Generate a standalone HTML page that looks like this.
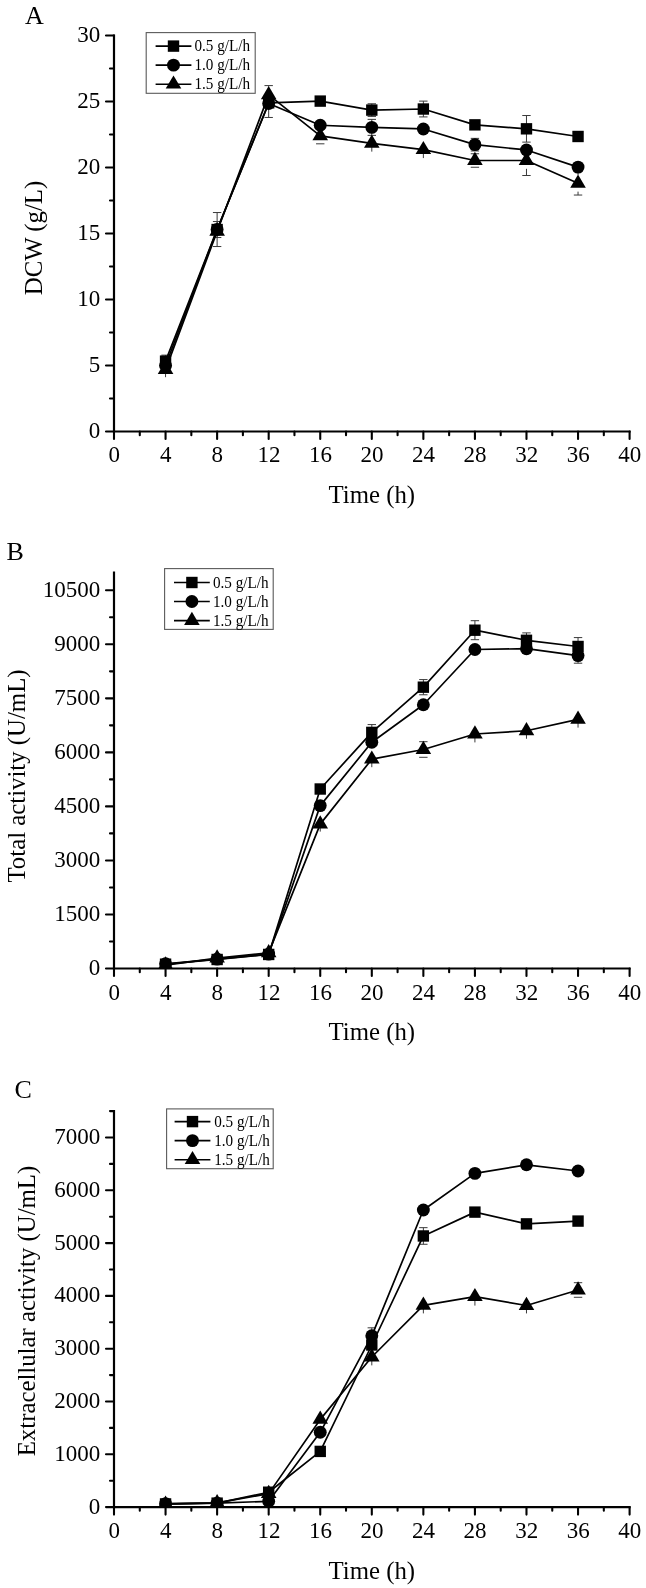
<!DOCTYPE html>
<html lang="en"><head><meta charset="utf-8"><title>Figure: DCW, total activity and extracellular activity vs time</title>
<style>html,body{margin:0;padding:0;background:#fff}body{width:646px;height:1588px;overflow:hidden}svg{display:block;will-change:transform;opacity:.999}text{font-family:'Liberation Serif', 'DejaVu Serif', serif;fill:#000}</style>
</head><body>
<svg width="646" height="1588" viewBox="0 0 646 1588">
<g>
<path d="M114 34.45 V431.5 H630.65" fill="none" stroke="#000" stroke-width="2.2" stroke-linejoin="miter"/>
<path d="M114 431.5H106M114 365.5H106M114 299.5H106M114 233.5H106M114 167.5H106M114 101.5H106M114 35.5H106M114 398.5H110M114 332.5H110M114 266.5H110M114 200.5H110M114 134.5H110M114 68.5H110M114 431.5V439M165.56 431.5V439M217.12 431.5V439M268.68 431.5V439M320.24 431.5V439M371.8 431.5V439M423.36 431.5V439M474.92 431.5V439M526.48 431.5V439M578.04 431.5V439M629.6 431.5V439M139.78 431.5V435.2M191.34 431.5V435.2M242.9 431.5V435.2M294.46 431.5V435.2M346.02 431.5V435.2M397.58 431.5V435.2M449.14 431.5V435.2M500.7 431.5V435.2M552.26 431.5V435.2M603.82 431.5V435.2" fill="none" stroke="#000" stroke-width="2.1" stroke-linecap="round"/>
<g font-size="23" text-anchor="end">
<text x="100.3" y="437.9">0</text>
<text x="100.3" y="371.9">5</text>
<text x="100.3" y="305.9">10</text>
<text x="100.3" y="239.9">15</text>
<text x="100.3" y="173.9">20</text>
<text x="100.3" y="107.9">25</text>
<text x="100.3" y="41.9">30</text>
</g>
<g font-size="23" text-anchor="middle">
<text x="114.2" y="461.9">0</text>
<text x="165.76" y="461.9">4</text>
<text x="217.32" y="461.9">8</text>
<text x="268.88" y="461.9">12</text>
<text x="320.44" y="461.9">16</text>
<text x="372" y="461.9">20</text>
<text x="423.56" y="461.9">24</text>
<text x="475.12" y="461.9">28</text>
<text x="526.68" y="461.9">32</text>
<text x="578.24" y="461.9">36</text>
<text x="629.8" y="461.9">40</text>
</g>
<text x="371.8" y="502.9" font-size="24.8" text-anchor="middle">Time (h)</text>
<text transform="translate(41.6 238) rotate(-90)" font-size="24.8" text-anchor="middle">DCW (g/L)</text>
<text x="25" y="23.8" font-size="26">A</text>
<clipPath id="clipA"><rect x="114" y="0" width="532" height="431.5"/></clipPath>
<g clip-path="url(#clipA)">
<path d="M165.56 355.14V367.14M161.36 355.14H169.76M161.36 367.14H169.76M217.12 221.54V237.54M212.92 221.54H221.32M212.92 237.54H221.32M371.8 103.78V116.38M367.6 103.78H376M367.6 116.38H376M423.36 101.12V116.92M419.16 101.12H427.56M419.16 116.92H427.56M526.48 115.52V142.12M522.28 115.52H530.68M522.28 142.12H530.68M217.12 212.54V246.54M212.92 212.54H221.32M212.92 246.54H221.32M268.68 89.48V117.48M264.48 117.48H272.88M371.8 119.37V135.37M367.6 119.37H376M367.6 135.37H376M474.92 138.36V150.96M470.72 138.36H479.12M470.72 150.96H479.12M165.56 373.09V377.19M268.68 85.6V86.6M268.68 103.2V104.2M264.48 85.6H272.88M264.48 104.2H272.88M316.04 127.82H324.44M316.04 143.82H324.44M371.8 146.84V151.64M423.36 153.18V158.08M470.72 153.75H479.12M470.72 167.25H479.12M526.48 145.5V152.2M526.48 168.8V175.5M522.28 145.5H530.68M522.28 175.5H530.68M578.04 171.64V175.04M578.04 191.64V195.04M573.84 171.64H582.24M573.84 195.04H582.24" fill="none" stroke="#3a3a3a" stroke-width="1.0"/>
<polyline points="165.56,361.14 217.12,229.54 268.68,102.82 320.24,101.1 371.8,110.08 423.36,109.02 474.92,124.86 526.48,128.82 578.04,136.48" fill="none" stroke="#000" stroke-width="1.7" stroke-linejoin="round"/>
<polyline points="165.56,365.5 217.12,229.54 268.68,103.48 320.24,125.26 371.8,127.37 423.36,128.96 474.92,144.66 526.48,149.94 578.04,167.1" fill="none" stroke="#000" stroke-width="1.7" stroke-linejoin="round"/>
<polyline points="165.56,369.59 217.12,231.39 268.68,94.9 320.24,135.82 371.8,143.34 423.36,149.68 474.92,160.5 526.48,160.5 578.04,183.34" fill="none" stroke="#000" stroke-width="1.7" stroke-linejoin="round"/>
<g fill="#000"><rect x="159.86" y="355.44" width="11.4" height="11.4"/><rect x="211.42" y="223.84" width="11.4" height="11.4"/><rect x="262.98" y="97.12" width="11.4" height="11.4"/><rect x="314.54" y="95.4" width="11.4" height="11.4"/><rect x="366.1" y="104.38" width="11.4" height="11.4"/><rect x="417.66" y="103.32" width="11.4" height="11.4"/><rect x="469.22" y="119.16" width="11.4" height="11.4"/><rect x="520.78" y="123.12" width="11.4" height="11.4"/><rect x="572.34" y="130.78" width="11.4" height="11.4"/></g>
<g fill="#000"><circle cx="165.56" cy="365.5" r="6.45"/><circle cx="217.12" cy="229.54" r="6.45"/><circle cx="268.68" cy="103.48" r="6.45"/><circle cx="320.24" cy="125.26" r="6.45"/><circle cx="371.8" cy="127.37" r="6.45"/><circle cx="423.36" cy="128.96" r="6.45"/><circle cx="474.92" cy="144.66" r="6.45"/><circle cx="526.48" cy="149.94" r="6.45"/><circle cx="578.04" cy="167.1" r="6.45"/></g>
<g fill="#000"><polygon points="165.56,360.79 157.76,373.99 173.36,373.99"/><polygon points="217.12,222.59 209.32,235.79 224.92,235.79"/><polygon points="268.68,86.1 260.88,99.3 276.48,99.3"/><polygon points="320.24,127.02 312.44,140.22 328.04,140.22"/><polygon points="371.8,134.54 364,147.74 379.6,147.74"/><polygon points="423.36,140.88 415.56,154.08 431.16,154.08"/><polygon points="474.92,151.7 467.12,164.9 482.72,164.9"/><polygon points="526.48,151.7 518.68,164.9 534.28,164.9"/><polygon points="578.04,174.54 570.24,187.74 585.84,187.74"/></g>
</g>
<rect x="146.2" y="32.6" width="109" height="60.7" fill="#fff" stroke="#5a5a5a" stroke-width="1.1"/>
<g font-size="15.8">
<path d="M155.6 46.1H191.4" stroke="#000" stroke-width="1.6" fill="none"/>
<rect x="167.8" y="40.4" width="11.4" height="11.4"/>
<text x="194.5" y="51.2" textLength="55.6" lengthAdjust="spacingAndGlyphs">0.5 g/L/h</text>
<path d="M155.6 65.15H191.4" stroke="#000" stroke-width="1.6" fill="none"/>
<circle cx="173.5" cy="65.15" r="6.45"/>
<text x="194.5" y="70.25" textLength="55.6" lengthAdjust="spacingAndGlyphs">1.0 g/L/h</text>
<path d="M155.6 84.2H191.4" stroke="#000" stroke-width="1.6" fill="none"/>
<polygon points="173.5,75.4 165.7,88.6 181.3,88.6"/>
<text x="194.5" y="89.3" textLength="55.6" lengthAdjust="spacingAndGlyphs">1.5 g/L/h</text>
</g>
</g>
<g>
<path d="M114 571.5 V968.5 H630.65" fill="none" stroke="#000" stroke-width="2.2" stroke-linejoin="miter"/>
<path d="M114 968.5H106M114 914.47H106M114 860.44H106M114 806.41H106M114 752.38H106M114 698.35H106M114 644.32H106M114 590.29H106M114 941.49H110M114 887.46H110M114 833.42H110M114 779.39H110M114 725.37H110M114 671.34H110M114 617.3H110M114 968.5V976M165.56 968.5V976M217.12 968.5V976M268.68 968.5V976M320.24 968.5V976M371.8 968.5V976M423.36 968.5V976M474.92 968.5V976M526.48 968.5V976M578.04 968.5V976M629.6 968.5V976M139.78 968.5V972.2M191.34 968.5V972.2M242.9 968.5V972.2M294.46 968.5V972.2M346.02 968.5V972.2M397.58 968.5V972.2M449.14 968.5V972.2M500.7 968.5V972.2M552.26 968.5V972.2M603.82 968.5V972.2" fill="none" stroke="#000" stroke-width="2.1" stroke-linecap="round"/>
<g font-size="23" text-anchor="end">
<text x="100.3" y="974.9">0</text>
<text x="100.3" y="920.87">1500</text>
<text x="100.3" y="866.84">3000</text>
<text x="100.3" y="812.81">4500</text>
<text x="100.3" y="758.78">6000</text>
<text x="100.3" y="704.75">7500</text>
<text x="100.3" y="650.72">9000</text>
<text x="100.3" y="596.69">10500</text>
</g>
<g font-size="23" text-anchor="middle">
<text x="114.2" y="999.5">0</text>
<text x="165.76" y="999.5">4</text>
<text x="217.32" y="999.5">8</text>
<text x="268.88" y="999.5">12</text>
<text x="320.44" y="999.5">16</text>
<text x="372" y="999.5">20</text>
<text x="423.56" y="999.5">24</text>
<text x="475.12" y="999.5">28</text>
<text x="526.68" y="999.5">32</text>
<text x="578.24" y="999.5">36</text>
<text x="629.8" y="999.5">40</text>
</g>
<text x="371.8" y="1039.9" font-size="24.8" text-anchor="middle">Time (h)</text>
<text transform="translate(24.6 776) rotate(-90)" font-size="24.8" text-anchor="middle">Total activity (U/mL)</text>
<text x="6.6" y="560" font-size="26">B</text>
<clipPath id="clipB"><rect x="114" y="0" width="532" height="968.5"/></clipPath>
<g clip-path="url(#clipB)">
<path d="M371.8 724.59V740.19M367.6 724.59H376M367.6 740.19H376M423.36 679.58V694.78M419.16 679.58H427.56M419.16 694.78H427.56M474.92 620.7V639.7M470.72 620.7H479.12M470.72 639.7H479.12M526.48 632.89V647.69M522.28 632.89H530.68M522.28 647.69H530.68M578.04 637.58V655.38M573.84 637.58H582.24M573.84 655.38H582.24M578.04 647.99V663.19M573.84 647.99H582.24M573.84 663.19H582.24M320.24 827.6V831.6M371.8 762.69V767.19M419.16 741.7H427.56M419.16 757.3H427.56M474.92 737.51V742.41M526.48 734.27V738.77M578.04 722.81V727.61" fill="none" stroke="#3a3a3a" stroke-width="1.0"/>
<polyline points="165.56,964.18 217.12,959.5 268.68,954.45 320.24,789.01 371.8,732.39 423.36,687.18 474.92,630.2 526.48,640.29 578.04,646.48" fill="none" stroke="#000" stroke-width="1.7" stroke-linejoin="round"/>
<polyline points="165.56,963.82 217.12,959.13 268.68,954.09 320.24,805.62 371.8,742.29 423.36,704.76 474.92,649.51 526.48,648.71 578.04,655.59" fill="none" stroke="#000" stroke-width="1.7" stroke-linejoin="round"/>
<polyline points="165.56,965.08 217.12,958.05 268.68,952.83 320.24,824.1 371.8,759.19 423.36,749.5 474.92,734.01 526.48,730.77 578.04,719.31" fill="none" stroke="#000" stroke-width="1.7" stroke-linejoin="round"/>
<g fill="#000"><rect x="159.86" y="958.48" width="11.4" height="11.4"/><rect x="211.42" y="953.79" width="11.4" height="11.4"/><rect x="262.98" y="948.75" width="11.4" height="11.4"/><rect x="314.54" y="783.31" width="11.4" height="11.4"/><rect x="366.1" y="726.69" width="11.4" height="11.4"/><rect x="417.66" y="681.48" width="11.4" height="11.4"/><rect x="469.22" y="624.5" width="11.4" height="11.4"/><rect x="520.78" y="634.59" width="11.4" height="11.4"/><rect x="572.34" y="640.78" width="11.4" height="11.4"/></g>
<g fill="#000"><circle cx="165.56" cy="963.82" r="6.45"/><circle cx="217.12" cy="959.13" r="6.45"/><circle cx="268.68" cy="954.09" r="6.45"/><circle cx="320.24" cy="805.62" r="6.45"/><circle cx="371.8" cy="742.29" r="6.45"/><circle cx="423.36" cy="704.76" r="6.45"/><circle cx="474.92" cy="649.51" r="6.45"/><circle cx="526.48" cy="648.71" r="6.45"/><circle cx="578.04" cy="655.59" r="6.45"/></g>
<g fill="#000"><polygon points="165.56,956.28 157.76,969.48 173.36,969.48"/><polygon points="217.12,949.25 209.32,962.45 224.92,962.45"/><polygon points="268.68,944.03 260.88,957.23 276.48,957.23"/><polygon points="320.24,815.3 312.44,828.5 328.04,828.5"/><polygon points="371.8,750.39 364,763.59 379.6,763.59"/><polygon points="423.36,740.7 415.56,753.9 431.16,753.9"/><polygon points="474.92,725.21 467.12,738.41 482.72,738.41"/><polygon points="526.48,721.97 518.68,735.17 534.28,735.17"/><polygon points="578.04,710.51 570.24,723.71 585.84,723.71"/></g>
</g>
<rect x="164.6" y="568.6" width="108.6" height="60.8" fill="#fff" stroke="#5a5a5a" stroke-width="1.1"/>
<g font-size="15.8">
<path d="M174 582.5H209.8" stroke="#000" stroke-width="1.6" fill="none"/>
<rect x="186.2" y="576.8" width="11.4" height="11.4"/>
<text x="212.9" y="587.6" textLength="55.6" lengthAdjust="spacingAndGlyphs">0.5 g/L/h</text>
<path d="M174 601.55H209.8" stroke="#000" stroke-width="1.6" fill="none"/>
<circle cx="191.9" cy="601.55" r="6.45"/>
<text x="212.9" y="606.65" textLength="55.6" lengthAdjust="spacingAndGlyphs">1.0 g/L/h</text>
<path d="M174 620.6H209.8" stroke="#000" stroke-width="1.6" fill="none"/>
<polygon points="191.9,611.8 184.1,625 199.7,625"/>
<text x="212.9" y="625.7" textLength="55.6" lengthAdjust="spacingAndGlyphs">1.5 g/L/h</text>
</g>
</g>
<g>
<path d="M114 1109.95 V1507.1 H630.65" fill="none" stroke="#000" stroke-width="2.2" stroke-linejoin="miter"/>
<path d="M114 1507.1H106M114 1454.3H106M114 1401.5H106M114 1348.7H106M114 1295.9H106M114 1243.1H106M114 1190.3H106M114 1137.5H106M114 1480.7H110M114 1427.9H110M114 1375.1H110M114 1322.3H110M114 1269.5H110M114 1216.7H110M114 1163.9H110M114 1111.1H110M114 1507.1V1514.6M165.56 1507.1V1514.6M217.12 1507.1V1514.6M268.68 1507.1V1514.6M320.24 1507.1V1514.6M371.8 1507.1V1514.6M423.36 1507.1V1514.6M474.92 1507.1V1514.6M526.48 1507.1V1514.6M578.04 1507.1V1514.6M629.6 1507.1V1514.6M139.78 1507.1V1510.8M191.34 1507.1V1510.8M242.9 1507.1V1510.8M294.46 1507.1V1510.8M346.02 1507.1V1510.8M397.58 1507.1V1510.8M449.14 1507.1V1510.8M500.7 1507.1V1510.8M552.26 1507.1V1510.8M603.82 1507.1V1510.8" fill="none" stroke="#000" stroke-width="2.1" stroke-linecap="round"/>
<g font-size="23" text-anchor="end">
<text x="100.3" y="1513.5">0</text>
<text x="100.3" y="1460.7">1000</text>
<text x="100.3" y="1407.9">2000</text>
<text x="100.3" y="1355.1">3000</text>
<text x="100.3" y="1302.3">4000</text>
<text x="100.3" y="1249.5">5000</text>
<text x="100.3" y="1196.7">6000</text>
<text x="100.3" y="1143.9">7000</text>
</g>
<g font-size="23" text-anchor="middle">
<text x="114.2" y="1538.1">0</text>
<text x="165.76" y="1538.1">4</text>
<text x="217.32" y="1538.1">8</text>
<text x="268.88" y="1538.1">12</text>
<text x="320.44" y="1538.1">16</text>
<text x="372" y="1538.1">20</text>
<text x="423.56" y="1538.1">24</text>
<text x="475.12" y="1538.1">28</text>
<text x="526.68" y="1538.1">32</text>
<text x="578.24" y="1538.1">36</text>
<text x="629.8" y="1538.1">40</text>
</g>
<text x="371.8" y="1578.5" font-size="24.8" text-anchor="middle">Time (h)</text>
<text transform="translate(35 1311) rotate(-90)" font-size="24.8" text-anchor="middle">Extracellular activity (U/mL)</text>
<text x="14.6" y="1098" font-size="26">C</text>
<clipPath id="clipC"><rect x="114" y="0" width="532" height="1507.1"/></clipPath>
<g clip-path="url(#clipC)">
<path d="M423.36 1227.67V1244.27M419.16 1227.67H427.56M419.16 1244.27H427.56M371.8 1327.82V1343.82M367.6 1327.82H376M367.6 1343.82H376M371.8 1360.49V1365.39M423.36 1308.9V1313.4M474.92 1300.19V1305.59M526.48 1309.01V1313.41M573.84 1282.69H582.24M573.84 1297.29H582.24" fill="none" stroke="#3a3a3a" stroke-width="1.0"/>
<polyline points="165.56,1503.93 217.12,1503.14 268.68,1492.21 320.24,1451.4 371.8,1345 423.36,1235.97 474.92,1212.11 526.48,1223.88 578.04,1221.08" fill="none" stroke="#000" stroke-width="1.7" stroke-linejoin="round"/>
<polyline points="165.56,1503.67 217.12,1503.14 268.68,1501.29 320.24,1432.28 371.8,1335.82 423.36,1209.99 474.92,1173.4 526.48,1164.8 578.04,1170.98" fill="none" stroke="#000" stroke-width="1.7" stroke-linejoin="round"/>
<polyline points="165.56,1504.2 217.12,1502.88 268.68,1493.64 320.24,1419.4 371.8,1356.99 423.36,1305.4 474.92,1296.69 526.48,1305.51 578.04,1289.99" fill="none" stroke="#000" stroke-width="1.7" stroke-linejoin="round"/>
<g fill="#000"><rect x="159.86" y="1498.23" width="11.4" height="11.4"/><rect x="211.42" y="1497.44" width="11.4" height="11.4"/><rect x="262.98" y="1486.51" width="11.4" height="11.4"/><rect x="314.54" y="1445.7" width="11.4" height="11.4"/><rect x="366.1" y="1339.3" width="11.4" height="11.4"/><rect x="417.66" y="1230.27" width="11.4" height="11.4"/><rect x="469.22" y="1206.41" width="11.4" height="11.4"/><rect x="520.78" y="1218.18" width="11.4" height="11.4"/><rect x="572.34" y="1215.38" width="11.4" height="11.4"/></g>
<g fill="#000"><circle cx="165.56" cy="1503.67" r="6.45"/><circle cx="217.12" cy="1503.14" r="6.45"/><circle cx="268.68" cy="1501.29" r="6.45"/><circle cx="320.24" cy="1432.28" r="6.45"/><circle cx="371.8" cy="1335.82" r="6.45"/><circle cx="423.36" cy="1209.99" r="6.45"/><circle cx="474.92" cy="1173.4" r="6.45"/><circle cx="526.48" cy="1164.8" r="6.45"/><circle cx="578.04" cy="1170.98" r="6.45"/></g>
<g fill="#000"><polygon points="165.56,1495.4 157.76,1508.6 173.36,1508.6"/><polygon points="217.12,1494.08 209.32,1507.28 224.92,1507.28"/><polygon points="268.68,1484.84 260.88,1498.04 276.48,1498.04"/><polygon points="320.24,1410.6 312.44,1423.8 328.04,1423.8"/><polygon points="371.8,1348.19 364,1361.39 379.6,1361.39"/><polygon points="423.36,1296.6 415.56,1309.8 431.16,1309.8"/><polygon points="474.92,1287.89 467.12,1301.09 482.72,1301.09"/><polygon points="526.48,1296.71 518.68,1309.91 534.28,1309.91"/><polygon points="578.04,1281.19 570.24,1294.39 585.84,1294.39"/></g>
</g>
<rect x="166.6" y="1108.9" width="106.6" height="59.8" fill="#fff" stroke="#5a5a5a" stroke-width="1.1"/>
<g font-size="15.8">
<path d="M174.6 1121.6H210.4" stroke="#000" stroke-width="1.6" fill="none"/>
<rect x="186.8" y="1115.9" width="11.4" height="11.4"/>
<text x="214.2" y="1126.7" textLength="55.6" lengthAdjust="spacingAndGlyphs">0.5 g/L/h</text>
<path d="M174.6 1140.65H210.4" stroke="#000" stroke-width="1.6" fill="none"/>
<circle cx="192.5" cy="1140.65" r="6.45"/>
<text x="214.2" y="1145.75" textLength="55.6" lengthAdjust="spacingAndGlyphs">1.0 g/L/h</text>
<path d="M174.6 1159.7H210.4" stroke="#000" stroke-width="1.6" fill="none"/>
<polygon points="192.5,1150.9 184.7,1164.1 200.3,1164.1"/>
<text x="214.2" y="1164.8" textLength="55.6" lengthAdjust="spacingAndGlyphs">1.5 g/L/h</text>
</g>
</g>
</svg>
</body></html>
